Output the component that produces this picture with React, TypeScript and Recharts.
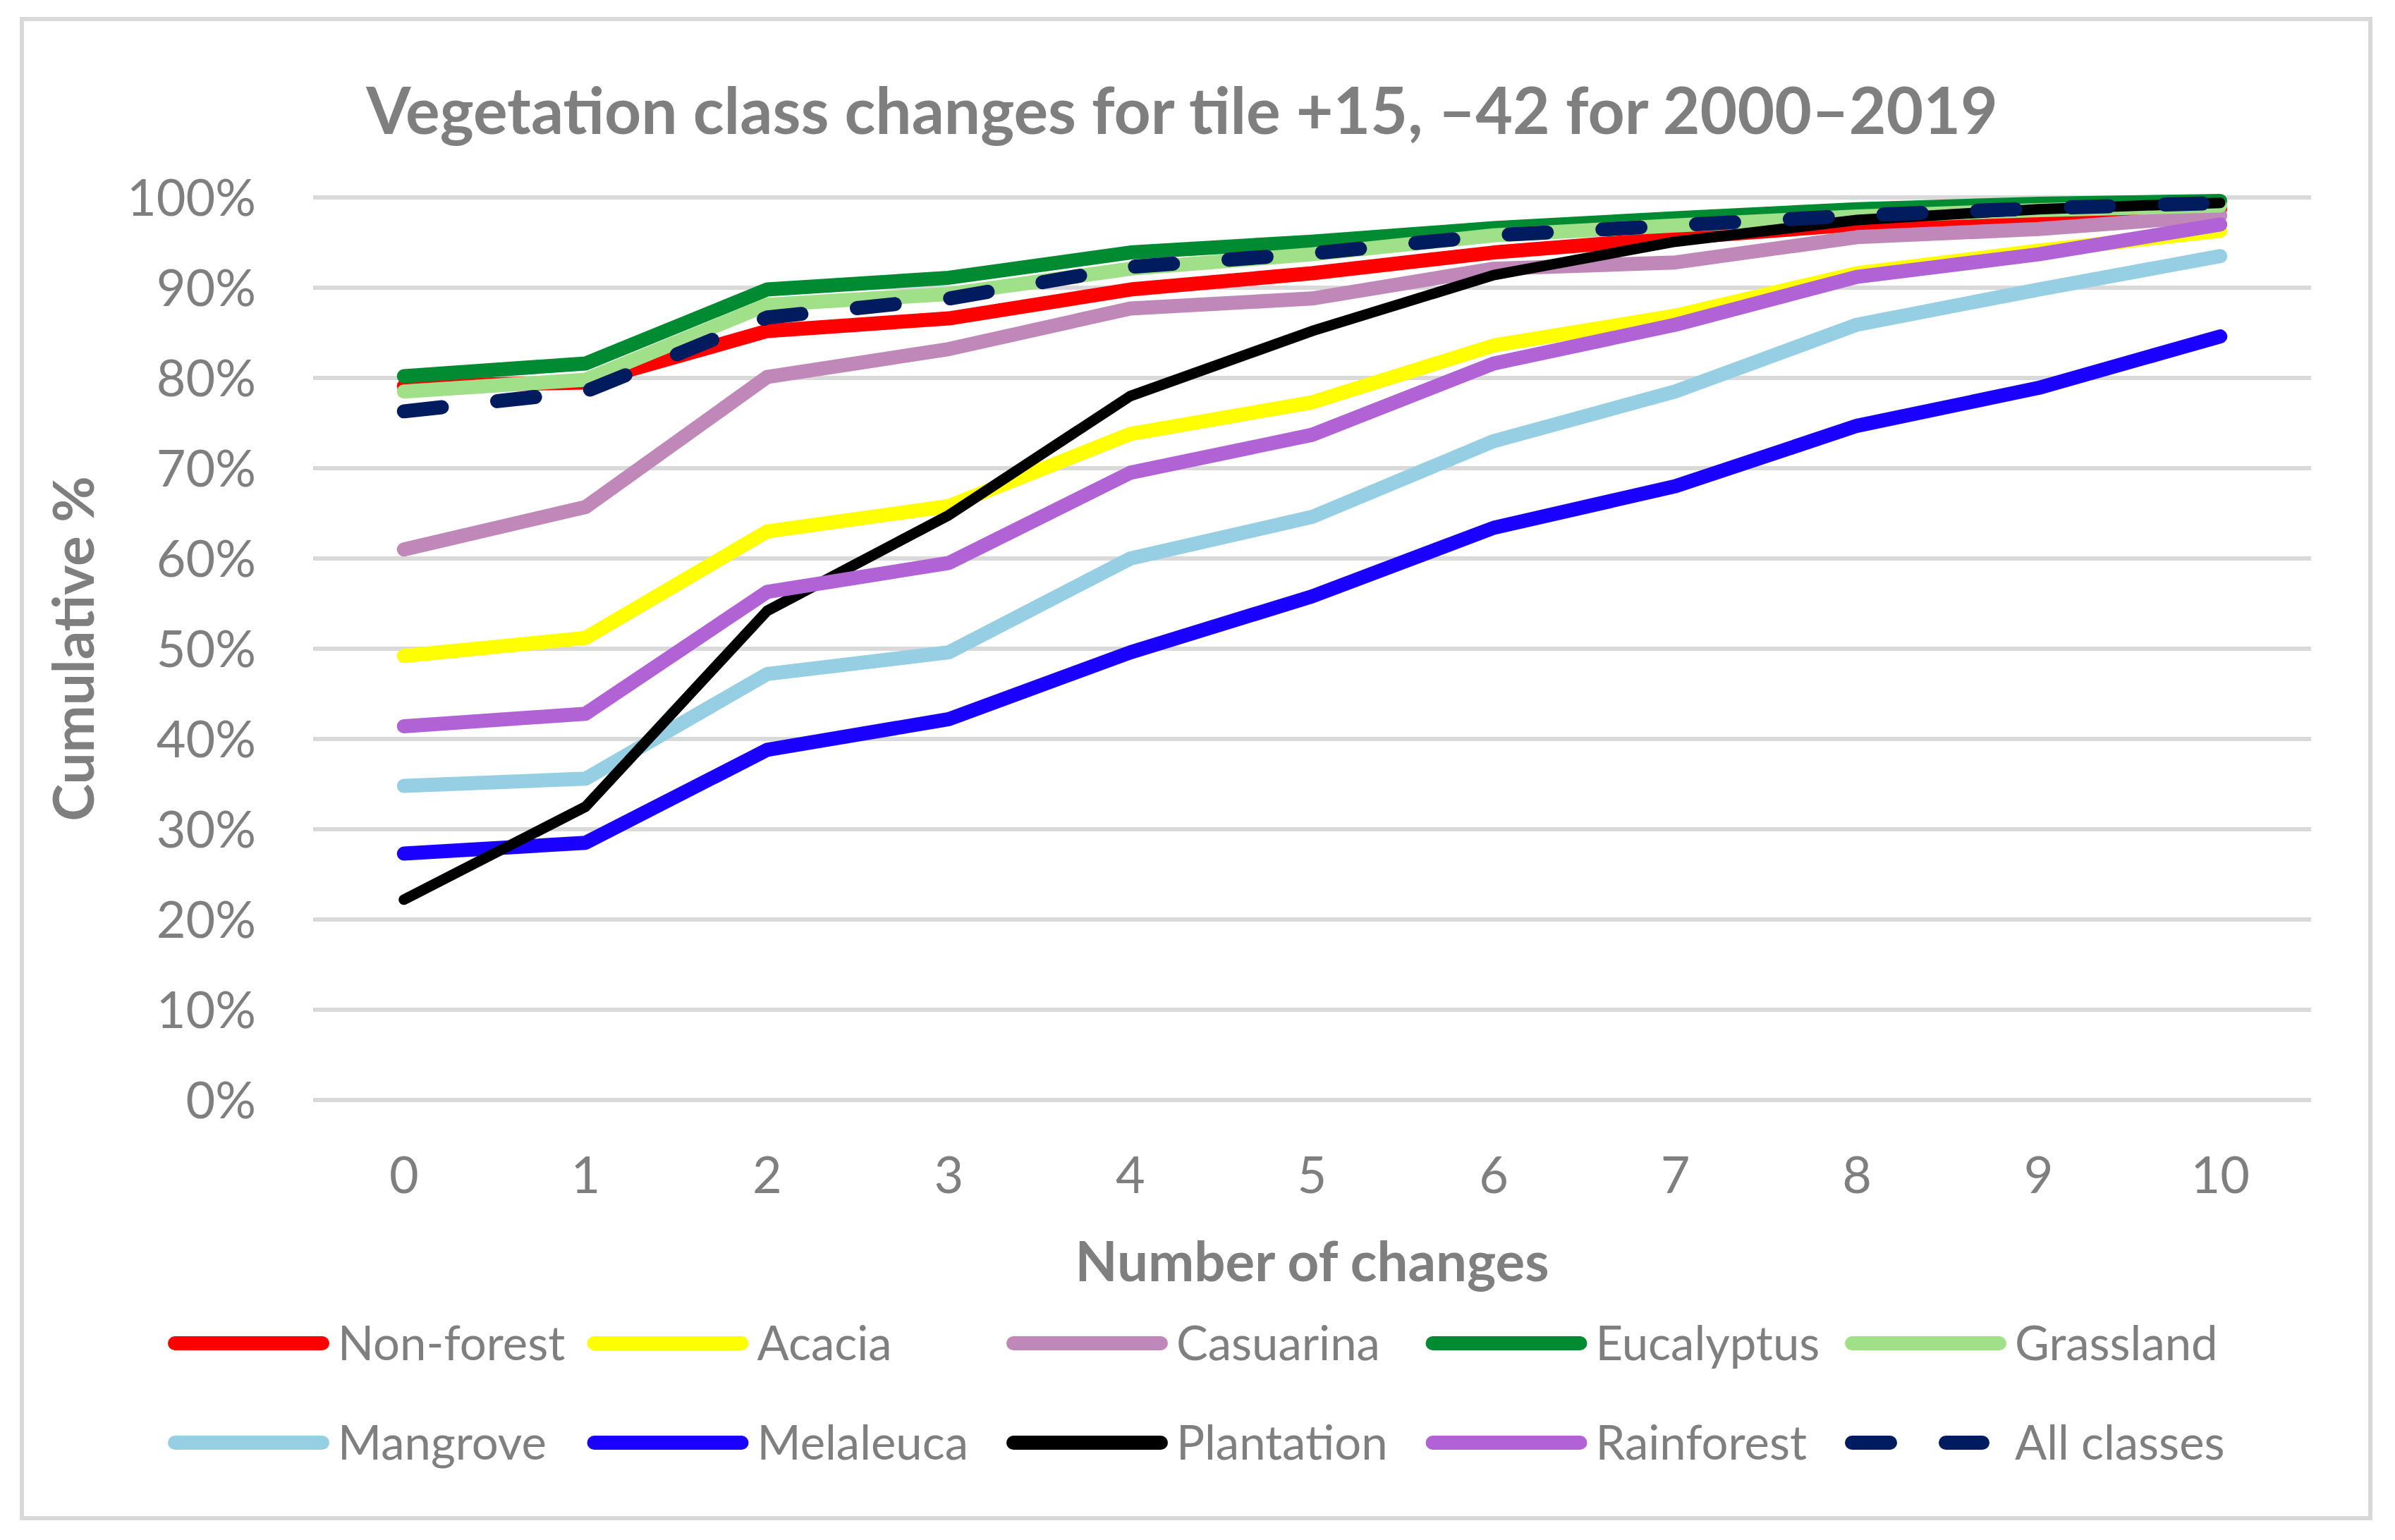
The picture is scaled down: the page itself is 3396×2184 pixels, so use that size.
import React from 'react';
import { LineChart, Line, XAxis, YAxis, CartesianGrid } from 'recharts';

// Number of vegetation class changes (x categories)
const changes = ['0', '1', '2', '3', '4', '5', '6', '7', '8', '9', '10'];

// Cumulative % of pixels per class
const nonForest = [79.1, 79.5, 85.2, 86.6, 89.8, 91.6, 93.9, 95.5, 97.0, 97.9, 98.8];
const acacia = [49.2, 51.2, 63.0, 65.8, 73.8, 77.3, 83.6, 86.9, 91.6, 94.1, 96.3];
const casuarina = [61.0, 65.7, 80.1, 83.2, 87.7, 88.8, 92.1, 92.8, 95.6, 96.5, 98.0];
const eucalyptus = [80.2, 81.6, 89.8, 91.1, 93.9, 95.1, 96.6, 97.7, 98.7, 99.3, 99.6];
const grassland = [78.5, 79.8, 88.1, 89.3, 92.1, 93.7, 95.8, 96.9, 97.9, 98.6, 99.1];
const mangrove = [34.8, 35.6, 47.2, 49.6, 60.0, 64.6, 73.0, 78.5, 85.9, 89.8, 93.5];
const melaleuca = [27.3, 28.5, 38.8, 42.2, 49.6, 55.8, 63.4, 68.0, 74.7, 78.9, 84.6];
const plantation = [22.2, 32.5, 54.2, 64.8, 78.0, 85.2, 91.4, 95.1, 97.5, 98.7, 99.4];
const rainforest = [41.4, 42.8, 56.3, 59.5, 69.5, 73.7, 81.6, 85.9, 91.2, 93.7, 97.0];
const allClasses = [76.3, 78.5, 86.7, 88.8, 92.3, 93.8, 95.8, 96.9, 98.0, 98.8, 99.4];

const yTicks = [0, 10, 20, 30, 40, 50, 60, 70, 80, 90, 100];

type Series = {
  key: string;
  name: string;
  color: string;
  values: number[];
  width: number;
  dash?: string;
};

const series: Series[] = [
  { key: 'nonForest', name: 'Non-forest', color: '#FF0000', values: nonForest, width: 20 },
  { key: 'acacia', name: 'Acacia', color: '#FFFF00', values: acacia, width: 20 },
  { key: 'casuarina', name: 'Casuarina', color: '#C088B8', values: casuarina, width: 20 },
  { key: 'eucalyptus', name: 'Eucalyptus', color: '#008B32', values: eucalyptus, width: 20 },
  { key: 'grassland', name: 'Grassland', color: '#A0E088', values: grassland, width: 20 },
  { key: 'mangrove', name: 'Mangrove', color: '#96CFE3', values: mangrove, width: 20 },
  { key: 'melaleuca', name: 'Melaleuca', color: '#1A00FF', values: melaleuca, width: 20 },
  { key: 'plantation', name: 'Plantation', color: '#000000', values: plantation, width: 15 },
  { key: 'rainforest', name: 'Rainforest', color: '#B163D6', values: rainforest, width: 20 },
  { key: 'allClasses', name: 'All classes', color: '#001B5E', values: allClasses, width: 20, dash: '54 79' },
];

const data = changes.map((c, i) => {
  const row: Record<string, string | number> = { changes: c };
  series.forEach((s) => {
    row[s.key] = s.values[i];
  });
  return row;
});

const W = 3396;
const H = 2184;
const FONT = 'Lato, "Open Sans", sans-serif';
const TEXT = '#7F7F7F';
const GRID = '#D9D9D9';

// plot area bounds
const PLOT_LEFT = 444;
const PLOT_RIGHT = 3277;
const PLOT_TOP = 280;
const PLOT_BOTTOM = 1560;
const Y_AXIS_W = 300;
const X_AXIS_H = 100;
// half a category band on each side, so points sit between the tick marks
const HALF_BAND = (PLOT_RIGHT - PLOT_LEFT) / changes.length / 2;

const LEGEND_X0 = 238;
const LEGEND_COL = 594.5;
const LEGEND_ROWS = [1905, 2046];
const LEGEND_LINE = 229;
const LEGEND_FONT = 67;

export default function App() {
  return (
    <div style={{ position: 'absolute', left: 0, top: 0, width: W, height: H, background: '#fff' }}>
      <svg width={W} height={H} style={{ position: 'absolute', left: 0, top: 0 }}>
        <rect x={31} y={27} width={3330} height={2126} fill="#fff" stroke={GRID} strokeWidth={6} />
      </svg>
      <div style={{ position: 'absolute', left: 0, top: 0 }}>
        <LineChart
          width={W}
          height={H}
          data={data}
          margin={{
            top: PLOT_TOP,
            right: W - PLOT_RIGHT,
            bottom: H - PLOT_BOTTOM - X_AXIS_H,
            left: PLOT_LEFT - Y_AXIS_W,
          }}
        >
          <CartesianGrid vertical={false} stroke={GRID} strokeWidth={6} />
          <XAxis
            dataKey="changes"
            height={X_AXIS_H}
            padding={{ left: HALF_BAND, right: HALF_BAND }}
            axisLine={false}
            tickLine={false}
            tickSize={0}
            tickMargin={81}
            interval={0}
            tick={{ fill: TEXT, fontSize: 72, fontFamily: FONT }}
          />
          <YAxis
            width={Y_AXIS_W}
            domain={[0, 100]}
            ticks={yTicks}
            interval={0}
            axisLine={false}
            tickLine={false}
            tickSize={0}
            tickMargin={81}
            tickFormatter={(v: number) => `${v}%`}
            tick={{ fill: TEXT, fontSize: 72, fontFamily: FONT }}
          />
          {series.map((s) => (
            <Line
              key={s.key}
              dataKey={s.key}
              name={s.name}
              type="linear"
              stroke={s.color}
              strokeWidth={s.width}
              strokeDasharray={s.dash}
              strokeLinecap="round"
              strokeLinejoin="round"
              dot={false}
              activeDot={false}
              isAnimationActive={false}
            />
          ))}
        </LineChart>
      </div>
      <svg width={W} height={H} style={{ position: 'absolute', left: 0, top: 0, pointerEvents: 'none' }}>
        <text
          x={1676}
          y={190}
          textAnchor="middle"
          fill={TEXT}
          fontFamily={FONT}
          fontWeight={700}
          fontSize={91}
        >
          Vegetation class changes for tile +15, –42 for 2000–2019
        </text>
        <text
          x={(PLOT_LEFT + PLOT_RIGHT) / 2}
          y={1817}
          textAnchor="middle"
          fill={TEXT}
          fontFamily={FONT}
          fontWeight={700}
          fontSize={78}
        >
          Number of changes
        </text>
        <text
          transform={`translate(133, ${(PLOT_TOP + PLOT_BOTTOM) / 2}) rotate(-90)`}
          textAnchor="middle"
          fill={TEXT}
          fontFamily={FONT}
          fontWeight={700}
          fontSize={80}
        >
          Cumulative %
        </text>
        {series.map((s, i) => {
          const col = i % 5;
          const row = Math.floor(i / 5);
          const x0 = LEGEND_X0 + col * LEGEND_COL;
          const cy = LEGEND_ROWS[row];
          const half = 10;
          return (
            <g key={s.key}>
              {s.dash ? (
                <line
                  x1={x0 + half}
                  x2={x0 + LEGEND_LINE - half - 24}
                  y1={cy}
                  y2={cy}
                  stroke={s.color}
                  strokeWidth={20}
                  strokeLinecap="round"
                  strokeDasharray={s.dash}
                />
              ) : (
                <line
                  x1={x0 + half}
                  x2={x0 + LEGEND_LINE - half}
                  y1={cy}
                  y2={cy}
                  stroke={s.color}
                  strokeWidth={20}
                  strokeLinecap="round"
                />
              )}
              <text
                x={x0 + LEGEND_LINE + 12}
                y={cy + 0.36 * LEGEND_FONT}
                fill={TEXT}
                fontFamily={FONT}
                fontSize={LEGEND_FONT}
              >
                {s.name}
              </text>
            </g>
          );
        })}
      </svg>
    </div>
  );
}
